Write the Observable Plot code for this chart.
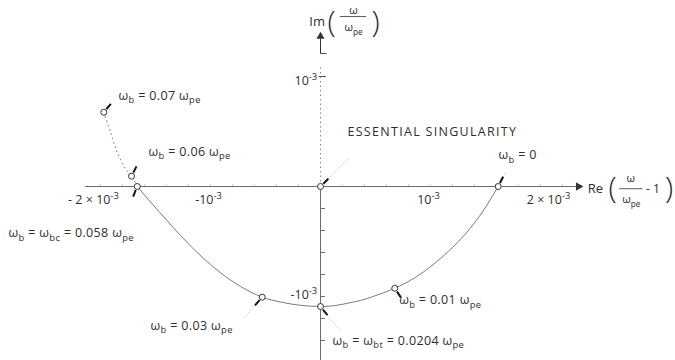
<!DOCTYPE html>
<html>
<head>
<meta charset="utf-8">
<script src="https://cdn.jsdelivr.net/npm/d3@7"></script>
<script src="https://cdn.jsdelivr.net/npm/@observablehq/plot@0.6"></script>
<style>
  html, body { margin: 0; padding: 0; background: #fff; }
  #chart svg { display: block; }
</style>
</head>
<body>
<div id="chart"></div>
<script>
// Complex-frequency locus: Re(ω/ωpe − 1) against Im(ω/ωpe), both in units of 1e-3,
// traced as the beam frequency ωb is varied.

// Branch below the real axis (solid), from ωb = ωbc round to ωb = 0
const lowerRe = [-1.666, -1.545, -1.409, -1.273, -1.136, -1.000, -0.864, -0.727, -0.636, -0.530,
                 -0.364, -0.182, 0, 0.136, 0.257, 0.364, 0.470, 0.573, 0.675, 0.864, 1.015,
                 1.166, 1.318, 1.470, 1.615];
const lowerIm = [0, -0.141, -0.295, -0.445, -0.586, -0.709, -0.818, -0.909, -0.959, -1.006,
                 -1.050, -1.080, -1.091, -1.082, -1.059, -1.036, -1.003, -0.966, -0.925, -0.825, -0.718,
                 -0.586, -0.430, -0.234, 0];

// Branch above the real axis (dotted), from ωb = ωbc up to ωb = 0.07 ωpe
const upperRe = [-1.666, -1.718, -1.773, -1.848, -1.909, -1.970];
const upperIm = [0, 0.094, 0.161, 0.312, 0.494, 0.675];

// Marked beam frequencies (ωb / ωpe) and their positions on the locus
const markWb = ["0", "0.01", "0.0204", "0.03", "0.058", "0.06", "0.07"];
const markRe = [1.615, 0.675, 0, -0.530, -1.666, -1.718, -1.970];
const markIm = [0, -0.925, -1.091, -1.006, 0, 0.094, 0.675];
const markText = [
  "ω_{b} = 0",
  "ω_{b} = 0.01 ω_{pe}",
  "ω_{b} = ω_{bt} = 0.0204 ω_{pe}",
  "ω_{b} = 0.03 ω_{pe}",
  "ω_{b} = ω_{bc} = 0.058 ω_{pe}",
  "ω_{b} = 0.06 ω_{pe}",
  "ω_{b} = 0.07 ω_{pe}"
];

// Axis tick values and labels (units of 1e-3)
const xTickValues = [-2, -1, 1, 2];
const xTickText = ["- 2 × 10^{-3}", "-10^{-3}", "10^{-3}", "2 × 10^{-3}"];
const yTickValues = [1, -1];
const yTickText = ["10^{-3}", "-10^{-3}"];
const yMinorTicks = [-0.2, -0.4, -0.6, -0.8, -1.0, -1.2, -1.4];
const xMinorTicks = [-2.0, -1.8, -1.6, -1.4, -1.2, -1.0, -0.8, -0.6, -0.4, -0.2,
                     0.2, 0.4, 0.6, 0.8, 1.0, 1.2, 1.4, 1.6, 1.8, 2.0, 2.2];

// Annotation layout: label anchor (data units), pointer direction (degrees) and leader length (px)
const notes = [
  {lx: 1.618, ly: 0.282, angle: 63, leader: 6},
  {lx: 0.715, ly: -1.036, angle: -56, leader: 8},
  {lx: 0.109, ly: -1.400, angle: -51, leader: 20},
  {lx: -1.545, ly: -1.264, angle: -131, leader: 18},
  {lx: -2.836, ly: -0.427, angle: -112, leader: 0},
  {lx: -1.564, ly: 0.318, angle: 63, leader: 0},
  {lx: -1.836, ly: 0.827, angle: 50, leader: 0}
];
const singularity = {re: 0, im: 0, text: "ESSENTIAL SINGULARITY", lx: 0.245, ly: 0.491, angle: 45, leader: 30};
const xTickLabelAt = [-2.064, -1.018, 0.982, 2.073];

const PX = 110;            // pixels per 1e-3 on both axes
const ink = "#2e2e2e";
const lineGrey = "#6d6d6d";
const font = "'Open Sans', sans-serif";

const lower = lowerRe.map((re, i) => ({re, im: lowerIm[i]}));
const upper = upperRe.map((re, i) => ({re, im: upperIm[i]}));
const marks = markWb.map((wb, i) => ({wb, re: markRe[i], im: markIm[i], text: markText[i], ...notes[i]}));
const pointed = [...marks, singularity];

// pointer wedge and faint leader for each marked point
const rad = d => d.angle * Math.PI / 180;
const at = (d, px) => ({x: d.re + Math.cos(rad(d)) * px / PX, y: d.im + Math.sin(rad(d)) * px / PX});
const wedges = pointed.map(d => ({a: at(d, 4), b: at(d, 11)}));
const leaders = pointed.filter(d => d.leader > 0).map(d => ({a: at(d, 11), b: at(d, 11 + d.leader)}));

let chart;
try {
chart = Plot.plot({
  width: 675,
  height: 360,
  margin: 0,
  x: {domain: [-320 / PX, 355 / PX], axis: null},
  y: {domain: [-174 / PX, 186 / PX], axis: null},
  style: {background: "#fff", fontFamily: font, color: ink},
  marks: [
    // real axis with arrow head
    Plot.ruleY([0], {x1: -2.136, x2: 2.33, stroke: lineGrey, strokeWidth: 1}),
    Plot.dot([0], {x: 2.345, y: 0, symbol: "triangle", rotate: 90, r: 3.2, fill: "#333", stroke: "none"}),
    Plot.ruleX(xMinorTicks, {x: d => d, y1: 0, y2: 2 / PX, stroke: lineGrey, strokeWidth: 0.6, strokeOpacity: 0.55}),
    // imaginary axis: dotted above, solid below, arrow at top
    Plot.ruleX([0], {y1: 0, y2: 1.1, stroke: "#888", strokeWidth: 1, strokeDasharray: "1.5,3"}),
    Plot.ruleX([0], {y1: 0, y2: -1.7, stroke: lineGrey, strokeWidth: 1}),
    Plot.ruleX([0], {y1: 1.209, y2: 1.34, stroke: "#333", strokeWidth: 1}),
    Plot.dot([0], {x: 0, y: 1.365, symbol: "triangle", r: 3, fill: "#333", stroke: "none"}),
    Plot.ruleY([1.209], {x1: 0, x2: 0.06, stroke: "#555", strokeWidth: 1}),
    Plot.ruleY([1], {x1: -0.01, x2: 0.055, stroke: "#555", strokeWidth: 1}),
    Plot.ruleY(yMinorTicks, {x1: 0, x2: 0.045, stroke: lineGrey, strokeWidth: 1}),

    // the locus
    Plot.line(upper, {x: "re", y: "im", curve: "catmull-rom", stroke: "#777", strokeWidth: 1, strokeDasharray: "1,3.5"}),
    Plot.line(lower, {x: "re", y: "im", curve: "monotone-x", stroke: "#6a6a6a", strokeWidth: 0.9}),

    // leaders and pointers
    Plot.link(leaders, {x1: d => d.a.x, y1: d => d.a.y, x2: d => d.b.x, y2: d => d.b.y,
      stroke: "#999", strokeWidth: 0.8, strokeDasharray: "1,2"}),
    Plot.link(wedges, {x1: d => d.a.x, y1: d => d.a.y, x2: d => d.b.x, y2: d => d.b.y,
      stroke: "#111", strokeWidth: 2}),

    // marked points
    Plot.dot(pointed, {x: "re", y: "im", r: 3, fill: "#fff", stroke: "#333", strokeWidth: 1}),

    // point labels
    Plot.text(pointed, {x: "lx", y: "ly", text: "text", textAnchor: "start", fontSize: 12.5, fill: ink}),

    // tick labels
    Plot.text(xTickValues, {x: (d, i) => xTickLabelAt[i], y: -0.125, text: (d, i) => xTickText[i],
      textAnchor: "middle", fontSize: 12.5, fill: ink}),
    Plot.text(yTickValues, {x: -0.03, y: d => d === 1 ? 0.955 : -0.985, text: (d, i) => yTickText[i],
      textAnchor: "end", fontSize: 12.5, fill: ink}),

    // imaginary-axis title: Im(ω/ωpe)
    Plot.text(["Im"], {x: -0.03, y: 1.5, text: d => d, textAnchor: "middle", fontSize: 13, fill: ink}),
    Plot.text(["(", ")"], {x: (d, i) => [0.1, 0.5][i], y: 1.49, text: d => d, textAnchor: "middle",
      fontSize: 30, fontWeight: 200, fill: ink}),
    Plot.text(["ω"], {x: 0.3, y: 1.6, text: d => d, textAnchor: "middle", fontSize: 11, fill: ink}),
    Plot.ruleY([1.545], {x1: 0.18, x2: 0.42, stroke: ink, strokeWidth: 0.8}),
    Plot.text(["ω_{pe}"], {x: 0.3, y: 1.445, text: d => d, textAnchor: "middle", fontSize: 11, fill: ink}),

    // real-axis title: Re(ω/ωpe − 1)
    Plot.text(["Re"], {x: 2.5, y: -0.02, text: d => d, textAnchor: "middle", fontSize: 13, fill: ink}),
    Plot.text(["(", ")"], {x: (d, i) => [2.655, 3.17][i], y: -0.02, text: d => d, textAnchor: "middle",
      fontSize: 30, fontWeight: 200, fill: ink}),
    Plot.text(["ω"], {x: 2.82, y: 0.075, text: d => d, textAnchor: "middle", fontSize: 11, fill: ink}),
    Plot.ruleY([-0.02], {x1: 2.72, x2: 2.93, stroke: ink, strokeWidth: 0.8}),
    Plot.text(["ω_{pe}"], {x: 2.825, y: -0.12, text: d => d, textAnchor: "middle", fontSize: 11, fill: ink}),
    Plot.text(["- 1"], {x: 2.96, y: -0.02, text: d => d, textAnchor: "start", fontSize: 12, fill: ink})
  ]
});
} catch (e) {
  const pre = document.createElement("pre");
  pre.textContent = String(e && e.stack || e);
  document.body.append(pre);
}

if (chart) {
  // Turn _{…} and ^{…} markup into sub- and superscript tspans
  d3.select(chart).selectAll("text").each(function () {
    const s = this.textContent;
    if (s === singularity.text) this.setAttribute("letter-spacing", "1.3");
    else if (s.startsWith("ω_{b}")) this.setAttribute("letter-spacing", "0.35");
    if (!/[_^]\{/.test(s)) return;
    const el = d3.select(this).text(null);
    let shift = 0;
    for (const part of s.split(/([_^]\{[^}]*\})/)) {
      if (!part) continue;
      const m = part.match(/^([_^])\{(.*)\}$/);
      if (m) {
        const dy = m[1] === "_" ? 3.5 : -5;
        el.append("tspan").attr("dy", dy - shift).attr("font-size", "75%").text(m[2]);
        shift = dy;
      } else {
        el.append("tspan").attr("dy", -shift).text(part);
        shift = 0;
      }
    }
  });
  document.getElementById("chart").append(chart);
}
</script>
</body>
</html>
